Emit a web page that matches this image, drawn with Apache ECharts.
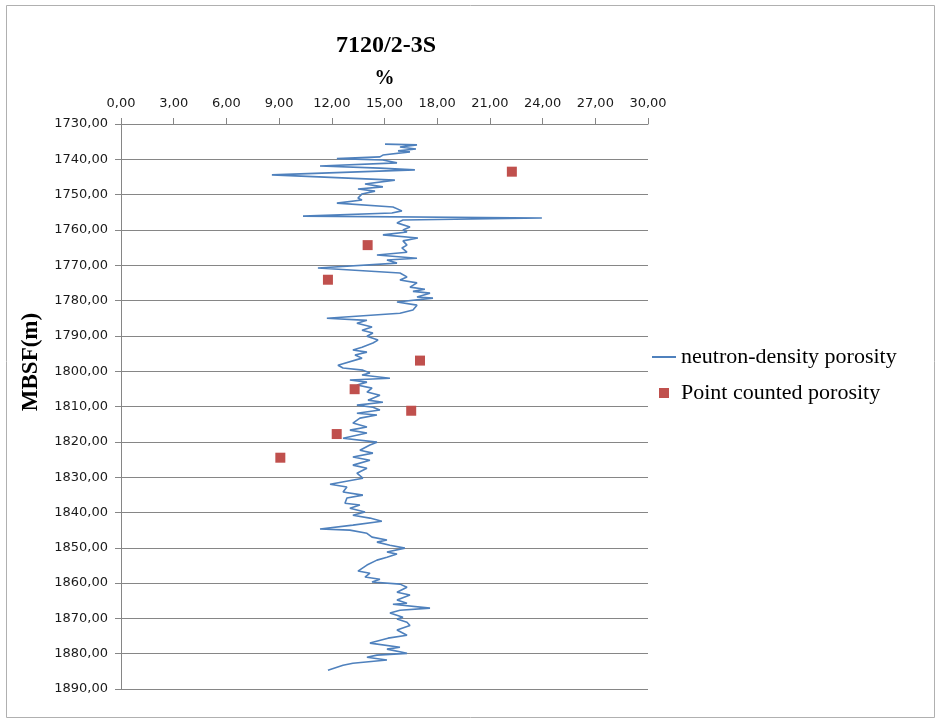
<!DOCTYPE html>
<html>
<head>
<meta charset="utf-8">
<script src="https://cdn.jsdelivr.net/npm/echarts@6/dist/echarts.min.js"></script>
<style>
	html, body {
		margin: 0;
		padding: 0;
		background: #ffffff;
	}

	#chart {
		width: 939px;
		height: 724px;
	}
</style>
</head>
<body>
<div id="chart"></div>
<script>
	// neutron-density log (depth in m, porosity in %)
	var logDepth = [
		1735.7, 1735.9, 1736.5, 1737.1, 1737.6, 1737.9, 1738.8, 1739.3, 1739.8, 1740.2,
		1741.0, 1741.9, 1742.5, 1743.0, 1744.4, 1745.9, 1747.0, 1747.8, 1748.4, 1749.0,
		1749.8, 1751.0, 1751.5, 1752.4, 1753.5, 1754.6, 1755.2, 1756.1, 1756.6, 1757.2,
		1758.0, 1759.2, 1760.0, 1760.6, 1761.4, 1762.3, 1763.1, 1764.3, 1765.1, 1766.3,
		1767.1, 1768.0, 1768.5, 1769.4, 1770.8, 1772.2, 1773.3, 1774.2, 1775.0, 1776.2,
		1776.8, 1777.4, 1777.9, 1779.0, 1779.3, 1780.4, 1781.3, 1782.7, 1783.6, 1785.0,
		1785.6, 1786.4, 1787.5, 1788.4, 1789.2, 1790.1, 1791.2, 1792.0, 1793.2, 1794.0,
		1794.6, 1795.4, 1796.3, 1798.3, 1799.1, 1799.7, 1800.5, 1801.1, 1802.0, 1802.5,
		1803.1, 1803.9, 1804.8, 1805.9, 1806.8, 1808.2, 1808.8, 1809.6, 1810.2, 1811.0,
		1811.9, 1812.4, 1813.3, 1814.7, 1815.8, 1816.7, 1817.5, 1819.0, 1820.1, 1820.9,
		1822.4, 1823.2, 1824.3, 1825.2, 1826.6, 1827.5, 1828.9, 1830.3, 1832.0, 1832.8,
		1834.2, 1835.1, 1835.9, 1837.4, 1837.9, 1838.8, 1839.9, 1840.8, 1841.6, 1842.5,
		1843.6, 1844.7, 1845.0, 1845.9, 1847.0, 1847.8, 1848.4, 1849.3, 1850.1, 1851.2,
		1851.8, 1852.7, 1853.5, 1854.9, 1856.6, 1857.2, 1858.3, 1858.9, 1859.7, 1860.3,
		1861.2, 1862.6, 1863.4, 1864.8, 1865.7, 1866.0, 1867.1, 1867.7, 1868.5, 1869.7,
		1870.2, 1871.1, 1872.0, 1873.3, 1874.8, 1875.6, 1877.0, 1878.2, 1878.7, 1879.9,
		1880.4, 1881.0, 1881.8, 1882.7, 1883.3, 1884.7
	];
	var logPorosity = [
		15.03, 16.85, 15.88, 16.79, 15.77, 16.45, 14.91, 14.74, 12.29, 14.91,
		15.71, 11.33, 14.74, 16.73, 8.59, 15.59, 13.89, 14.91, 13.49, 14.46,
		13.72, 13.49, 13.72, 12.29, 15.48, 15.99, 15.42, 10.36, 23.96, 16.05,
		15.71, 16.45, 16.05, 16.28, 14.91, 16.90, 16.05, 16.28, 15.99, 16.28,
		14.57, 16.85, 15.14, 15.71, 11.21, 15.88, 16.28, 15.88, 16.85, 16.45,
		17.30, 16.62, 17.59, 16.85, 17.76, 15.71, 16.85, 16.62, 15.88, 11.72,
		14.00, 13.43, 14.29, 13.72, 14.34, 14.00, 14.63, 14.34, 13.72, 13.20,
		14.00, 13.32, 13.72, 12.35, 12.64, 13.77, 14.17, 13.72, 15.31, 13.03,
		14.00, 13.43, 14.29, 14.00, 14.74, 14.06, 14.91, 13.43, 14.34, 14.74,
		13.43, 14.57, 13.60, 13.20, 14.00, 13.03, 14.00, 12.64, 14.57, 14.17,
		13.60, 14.34, 13.20, 14.17, 13.20, 14.00, 13.43, 13.77, 11.90, 12.86,
		12.64, 13.77, 12.86, 12.75, 13.60, 13.03, 13.89, 13.20, 14.17, 14.85,
		13.20, 11.33, 13.03, 14.00, 14.29, 15.14, 14.57, 15.31, 16.16, 15.14,
		15.71, 15.14, 14.57, 14.00, 13.49, 14.17, 13.89, 14.74, 14.29, 15.88,
		16.28, 15.71, 16.45, 15.71, 16.28, 15.48, 17.59, 15.88, 15.31, 16.05,
		15.71, 16.28, 16.45, 15.71, 16.28, 15.20, 14.17, 15.88, 15.14, 16.28,
		14.57, 14.00, 15.14, 13.20, 12.64, 11.78
	];

	// point counted samples
	var pointDepth = [1743.5, 1764.3, 1774.1, 1797.0, 1805.1, 1811.2, 1817.8, 1824.5];
	var pointPorosity = [22.25, 14.04, 11.78, 17.02, 13.30, 16.52, 12.28, 9.07];

	var seriesNames = ['neutron-density porosity', 'Point counted porosity'];

	function commaFixed(v) {
		return v.toFixed(2).replace('.', ',');
	}

	var logData = logDepth.map(function (d, i) {
		return [logPorosity[i], d];
	});
	var pointData = pointDepth.map(function (d, i) {
		return [pointPorosity[i], d];
	});

	var axisGray = '#868686';
	var labelFont = {
		fontFamily: 'DejaVu Sans',
		fontSize: 13,
		color: '#1a1a1a'
	};

	var myChart = echarts.init(document.getElementById('chart'), null, {renderer: 'canvas'});
	var option = {
		animation: false,
		backgroundColor: '#ffffff',
		title: {
			text: '7120/2-3S',
			left: 331,
			top: 29,
			textStyle: {
				fontFamily: 'Liberation Serif',
				fontWeight: 'bold',
				fontSize: 24,
				color: '#000'
			}
		},
		graphic: [{
			type: 'rect',
			silent: true,
			shape: {x: 6.5, y: 5.5, width: 928, height: 712},
			style: {fill: 'none', stroke: '#b0b0b0', lineWidth: 1}
		}, {
			type: 'text',
			silent: true,
			x: 31,
			y: 362,
			rotation: Math.PI / 2,
			style: {
				text: 'MBSF(m)',
				align: 'center',
				verticalAlign: 'middle',
				fontFamily: 'Liberation Serif',
				fontWeight: 'bold',
				fontSize: 23,
				fill: '#000'
			}
		}],
		legend: [{
			orient: 'vertical',
			left: 652,
			top: 346,
			padding: 0,
			itemWidth: 24,
			itemHeight: 2,
			selectedMode: false,
			data: [{
				name: seriesNames[0],
				icon: 'path://M0,0H24V2H0Z'
			}],
			textStyle: {
				fontFamily: 'Liberation Serif',
				fontSize: 22,
				lineHeight: 22,
				color: '#000'
			}
		}, {
			orient: 'vertical',
			left: 659,
			top: 382,
			padding: 0,
			itemWidth: 10,
			itemHeight: 10,
			selectedMode: false,
			data: [{
				name: seriesNames[1],
				icon: 'rect'
			}],
			textStyle: {
				fontFamily: 'Liberation Serif',
				fontSize: 22,
				lineHeight: 22,
				padding: [0, 0, 0, 7],
				color: '#000'
			}
		}],
		grid: {
			left: 121,
			right: 291,
			top: 124,
			bottom: 35,
			containLabel: false
		},
		xAxis: {
			type: 'value',
			position: 'top',
			min: 0,
			max: 30,
			interval: 3,
			name: '%',
			nameLocation: 'middle',
			nameGap: 35,
			nameTextStyle: {
				fontFamily: 'Liberation Serif',
				fontWeight: 'bold',
				fontSize: 20,
				color: '#000'
			},
			axisLine: {
				show: true,
				lineStyle: {color: axisGray, width: 1}
			},
			axisTick: {
				show: true,
				length: 6,
				lineStyle: {color: axisGray}
			},
			splitLine: {show: false},
			axisLabel: {
				margin: 14,
				formatter: commaFixed,
				fontFamily: labelFont.fontFamily,
				fontSize: labelFont.fontSize,
				color: labelFont.color
			}
		},
		yAxis: {
			type: 'value',
			inverse: true,
			min: 1730,
			max: 1890,
			interval: 10,
			axisLine: {
				show: true,
				lineStyle: {color: axisGray, width: 1}
			},
			axisTick: {
				show: true,
				length: 6,
				lineStyle: {color: axisGray}
			},
			splitLine: {
				show: true,
				lineStyle: {color: axisGray, width: 1.2}
			},
			axisLabel: {
				margin: 13,
				formatter: commaFixed,
				fontFamily: labelFont.fontFamily,
				fontSize: labelFont.fontSize,
				color: labelFont.color
			}
		},
		series: [{
			name: seriesNames[0],
			type: 'line',
			data: logData,
			symbol: 'none',
			color: '#4f81bd',
			lineStyle: {color: '#4f81bd', width: 1.6},
			z: 2
		}, {
			name: seriesNames[1],
			type: 'scatter',
			data: pointData,
			symbol: 'rect',
			symbolSize: 10,
			color: '#c0504d',
			itemStyle: {color: '#c0504d', opacity: 1},
			z: 3
		}]
	};
	// 使用配置项显示图表
	myChart.setOption(option);
</script>
</body>
</html>
